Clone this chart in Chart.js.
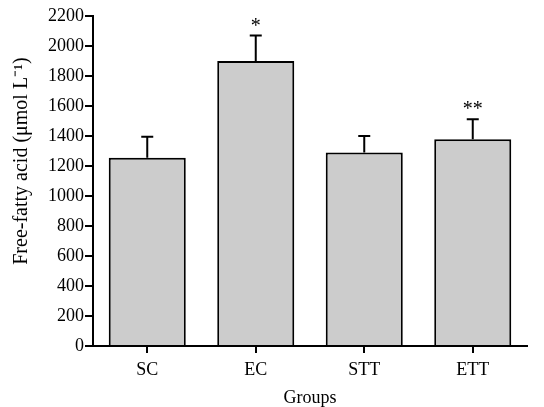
<!DOCTYPE html>
<html>
<head>
<meta charset="utf-8">
<script src="https://cdn.jsdelivr.net/npm/chart.js@4"></script>
<style>
  html, body { margin: 0; padding: 0; background: #fff; }
  #wrap { width: 544px; height: 407px; position: relative; }
</style>
</head>
<body>
<div id="wrap"><canvas id="ffaChart"></canvas></div>
<script>
const groups = ['SC', 'EC', 'STT', 'ETT'];
const ffaMean = [1255, 1900, 1290, 1378];
const ffaErr = [140, 170, 110, 133];
const marks = ['', '*', '', '**'];

const serif = '"Liberation Serif", "Times New Roman", serif';

// up-only error bars with caps, plus significance stars above them
const errorBars = {
  id: 'errorBars',
  afterDatasetsDraw(chart) {
    const ctx = chart.ctx;
    const meta = chart.getDatasetMeta(0);
    const y = chart.scales.y;
    ctx.save();
    ctx.strokeStyle = '#000';
    ctx.lineWidth = 2;
    meta.data.forEach((bar, i) => {
      const top = y.getPixelForValue(ffaMean[i] + ffaErr[i]);
      ctx.beginPath();
      ctx.moveTo(bar.x, bar.y);
      ctx.lineTo(bar.x, top);
      ctx.moveTo(bar.x - 6, top);
      ctx.lineTo(bar.x + 6, top);
      ctx.stroke();
      if (marks[i]) {
        ctx.fillStyle = '#000';
        ctx.font = '20px ' + serif;
        ctx.textAlign = 'center';
        ctx.textBaseline = 'alphabetic';
        ctx.fillText(marks[i], bar.x, top - 4);
      }
    });
    ctx.restore();
  }
};

// axis titles placed where the original has them
const axisTitles = {
  id: 'axisTitles',
  afterDraw(chart) {
    const ctx = chart.ctx;
    const area = chart.chartArea;
    ctx.save();
    ctx.fillStyle = '#000';
    ctx.textAlign = 'center';
    ctx.textBaseline = 'middle';
    ctx.font = '18px ' + serif;
    ctx.fillText('Groups', (area.left + area.right) / 2, 398);
    ctx.font = '20px ' + serif;
    ctx.translate(22, 161);
    ctx.rotate(-Math.PI / 2);
    ctx.fillText('Free-fatty acid (μmol L⁻¹)', 0, 0);
    ctx.restore();
  }
};

new Chart(document.getElementById('ffaChart'), {
  type: 'bar',
  data: {
    labels: groups,
    datasets: [{
      label: 'Free-fatty acid',
      data: ffaMean,
      backgroundColor: '#cccccc',
      borderColor: '#000',
      borderWidth: 2,
      categoryPercentage: 1,
      barPercentage: 0.71
    }]
  },
  options: {
    responsive: true,
    maintainAspectRatio: false,
    animation: false,
    layout: { padding: { top: 16, right: 17, left: 0, bottom: 0 } },
    plugins: { legend: { display: false }, tooltip: { enabled: false } },
    scales: {
      y: {
        min: 0,
        max: 2200,
        afterFit: s => { s.width = 93; },
        ticks: { stepSize: 200, color: '#000', padding: 1, callback: v => String(v), font: { family: serif, size: 18 } },
        grid: { drawOnChartArea: false, drawTicks: true, tickLength: 8, color: '#000', lineWidth: 2 },
        border: { display: true, color: '#000', width: 2 }
      },
      x: {
        afterFit: s => { s.height = 61; },
        ticks: { color: '#000', padding: 6, font: { family: serif, size: 18 } },
        grid: { drawOnChartArea: false, drawTicks: true, tickLength: 7, color: '#000', lineWidth: 2, offset: false },
        border: { display: true, color: '#000', width: 2 }
      }
    }
  },
  plugins: [errorBars, axisTitles]
});
</script>
</body>
</html>
